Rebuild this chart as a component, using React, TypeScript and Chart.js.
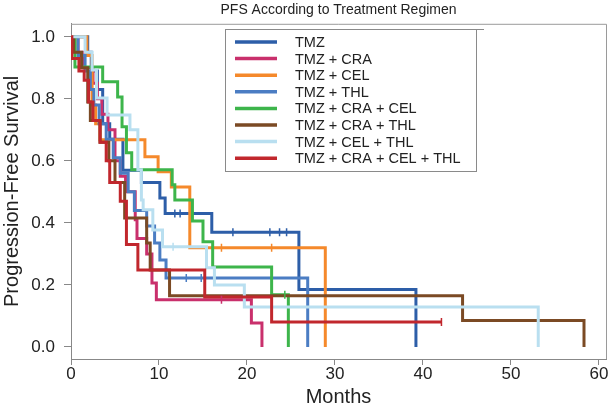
import React, { useEffect, useRef } from 'react';
import { Chart, registerables } from 'chart.js';

Chart.register(...registerables);

// ---- data ----
const seriesNames = [
  'TMZ',
  'TMZ + CRA',
  'TMZ + CEL',
  'TMZ + THL',
  'TMZ + CRA + CEL',
  'TMZ + CRA + THL',
  'TMZ + CEL + THL',
  'TMZ + CRA + CEL + THL',
];
const seriesColors = ['#2d5ea8', '#c9306c', '#f5892b', '#4b7dc3', '#3db54b', '#7b4a24', '#b9dff0', '#c1272d'];

const tmzMonths = [0, 1.9, 2.3, 3.0, 3.6, 4.4, 5.9, 8.0, 10.1, 10.7, 16.0, 25.9, 39.2];
const tmzSurv = [1, 0.95, 0.89, 0.83, 0.72, 0.67, 0.57, 0.53, 0.48, 0.43, 0.37, 0.185, 0];
const tmzCensor = [11.8, 12.4, 18.4, 22.6, 23.7, 24.5];

const craMonths = [0, 0.8, 1.5, 2.5, 3.0, 3.5, 4.2, 5.0, 5.6, 6.2, 7.3, 7.5, 8.6, 9.2, 9.7, 20.5, 21.7];
const craSurv = [1, 0.95, 0.9, 0.85, 0.8, 0.75, 0.7, 0.6, 0.55, 0.5, 0.41, 0.35, 0.3, 0.206, 0.152, 0.077, 0];
const craCensor = [17.1];

const celMonths = [0, 1.8, 2.4, 2.8, 3.3, 8.4, 9.9, 11.4, 13.5, 28.9];
const celSurv = [1, 0.94, 0.78, 0.72, 0.668, 0.613, 0.565, 0.516, 0.32, 0];
const celCensor = [17.1, 22.8];

const thlMonths = [0, 0.8, 1.6, 2.2, 2.6, 3.2, 4.0, 4.8, 5.6, 6.5, 7.2, 8.6, 9.5, 10.1, 10.8, 26.9];
const thlSurv = [1, 0.94, 0.89, 0.83, 0.78, 0.72, 0.67, 0.61, 0.56, 0.5, 0.44, 0.39, 0.335, 0.28, 0.222, 0];
const thlCensor = [13.1, 14.8];

const craCelMonths = [0, 0.45, 3.6, 5.3, 5.8, 6.3, 6.9, 11.5, 11.8, 13.8, 15.0, 16.1, 22.8, 24.7];
const craCelSurv = [1, 0.903, 0.855, 0.806, 0.71, 0.626, 0.571, 0.523, 0.474, 0.406, 0.339, 0.258, 0.168, 0];
const craCelCensor = [24.3];

const craThlMonths = [0, 0.3, 1.2, 1.9, 2.2, 3.3, 4.3, 5.0, 6.1, 8.6, 9.0, 11.2, 44.5, 58.3];
const craThlSurv = [1, 0.95, 0.9, 0.79, 0.73, 0.66, 0.6, 0.53, 0.416, 0.335, 0.248, 0.165, 0.085, 0];
const craThlCensor: number[] = [];

const celThlMonths = [0, 1.6, 2.4, 2.9, 4.1, 6.7, 7.6, 8.0, 8.2, 9.3, 10.4, 15.4, 16.3, 19.7, 53.1];
const celThlSurv = [1, 0.95, 0.893, 0.803, 0.748, 0.7, 0.571, 0.474, 0.442, 0.377, 0.323, 0.255, 0.2, 0.129, 0];
const celThlCensor = [11.6];

const allMonths = [0, 0.1, 0.9, 1.5, 2.0, 2.5, 3.3, 4.0, 4.4, 5.6, 6.3, 7.6, 15.2, 22.8, 42.1];
const allSurv = [1, 0.93, 0.89, 0.86, 0.79, 0.73, 0.66, 0.6, 0.53, 0.47, 0.33, 0.248, 0.161, 0.08, 0.08];
const allCensor = [42.1];

const xTicks = [0, 10, 20, 30, 40, 50, 60];
const yTicks = [0, 0.2, 0.4, 0.6, 0.8, 1.0];

const seriesMonths = [tmzMonths, craMonths, celMonths, thlMonths, craCelMonths, craThlMonths, celThlMonths, allMonths];
const seriesSurv = [tmzSurv, craSurv, celSurv, thlSurv, craCelSurv, craThlSurv, celThlSurv, allSurv];
const seriesCensor = [tmzCensor, craCensor, celCensor, thlCensor, craCelCensor, craThlCensor, celThlCensor, allCensor];

const FONT = "'Liberation Sans', Arial, sans-serif";

function survAt(months: number[], surv: number[], t: number) {
  let s = surv[0];
  for (let i = 0; i < months.length; i++) {
    if (months[i] <= t) s = surv[i];
  }
  return s;
}

const framePlugin = {
  id: 'frame',
  beforeDatasetsDraw(chart: any) {
    const { ctx, chartArea } = chart;
    ctx.save();
    ctx.strokeStyle = '#9a9a9a';
    ctx.lineWidth = 1;
    ctx.beginPath();
    ctx.moveTo(chartArea.left, chartArea.top + 0.5);
    ctx.lineTo(chartArea.right + 0.5, chartArea.top + 0.5);
    ctx.lineTo(chartArea.right + 0.5, chartArea.bottom);
    ctx.stroke();
    ctx.restore();
  },
};

const legendPlugin = {
  id: 'kmLegend',
  afterDraw(chart: any) {
    const { ctx } = chart;
    const x0 = 225;
    const y0 = 29;
    const w = 251;
    const h = 142;
    ctx.save();
    ctx.fillStyle = '#ffffff';
    ctx.fillRect(x0, y0, w, h);
    ctx.strokeStyle = '#8a8a8a';
    ctx.lineWidth = 1;
    ctx.strokeRect(x0 + 0.5, y0 + 0.5, w, h);
    ctx.beginPath();
    ctx.moveTo(x0 + w, y0 + 0.5);
    ctx.lineTo(x0 + w + 8, y0 + 0.5);
    ctx.stroke();
    ctx.font = `14.5px ${FONT}`;
    ctx.textBaseline = 'middle';
    ctx.textAlign = 'left';
    seriesNames.forEach((name, i) => {
      const y = y0 + 13 + i * 16.6;
      ctx.strokeStyle = seriesColors[i];
      ctx.lineWidth = 3.5;
      ctx.beginPath();
      ctx.moveTo(235, y);
      ctx.lineTo(277, y);
      ctx.stroke();
      ctx.fillStyle = '#222222';
      ctx.fillText(name, 295, y + 1);
    });
    ctx.restore();
  },
};

export default function App() {
  const ref = useRef<HTMLCanvasElement | null>(null);

  useEffect(() => {
    document.body.style.margin = '0';
    const canvas = ref.current;
    if (!canvas) return;

    const lineSets = seriesNames.map((name, i) => ({
      type: 'line' as const,
      label: name,
      data: seriesMonths[i].map((m, j) => ({ x: m, y: seriesSurv[i][j] })),
      borderColor: seriesColors[i],
      backgroundColor: seriesColors[i],
      borderWidth: 3,
      stepped: true,
      pointRadius: 0,
      fill: false,
      order: 10 + (7 - i),
    }));

    const censorSets = seriesNames.map((name, i) => ({
      type: 'scatter' as const,
      label: name + ' censored',
      data: seriesCensor[i].map((m) => ({ x: m, y: survAt(seriesMonths[i], seriesSurv[i], m) })),
      borderColor: seriesColors[i],
      backgroundColor: seriesColors[i],
      pointStyle: 'line',
      rotation: 90,
      pointRadius: 4,
      pointBorderWidth: 1.5,
      showLine: false,
      order: 1,
    }));

    const chart = new Chart(canvas, {
      type: 'line',
      data: { datasets: [...lineSets, ...censorSets] as any },
      options: {
        responsive: false,
        animation: false,
        layout: { padding: { left: 0, right: 10, top: 0, bottom: 0 } },
        plugins: {
          legend: { display: false },
          tooltip: { enabled: false },
          title: {
            display: true,
            fullSize: false,
            text: 'PFS According to Treatment Regimen',
            color: '#222',
            font: { family: FONT, size: 14, weight: 'normal' },
            padding: { top: 2, bottom: 5 },
          },
        },
        scales: {
          x: {
            type: 'linear',
            min: 0,
            max: 60.8,
            afterBuildTicks: (axis: any) => {
              axis.ticks = xTicks.map((v) => ({ value: v }));
            },
            afterFit: (scale: any) => {
              scale.height = 51;
            },
            ticks: {
              color: '#222',
              font: { family: FONT, size: 17 },
              padding: -1,
              maxRotation: 0,
              callback: (v: any) => String(v),
            },
            grid: { display: true, drawOnChartArea: false, drawTicks: true, tickLength: 6, color: '#888' },
            border: { display: true, color: '#888', width: 1 },
            title: {
              display: true,
              text: 'Months',
              color: '#222',
              font: { family: FONT, size: 20 },
              padding: { top: 0, bottom: 1 },
            },
          },
          y: {
            type: 'linear',
            min: -0.039,
            max: 1.042,
            afterBuildTicks: (axis: any) => {
              axis.ticks = yTicks.map((v) => ({ value: v }));
            },
            afterFit: (scale: any) => {
              scale.width = 71;
            },
            ticks: {
              color: '#222',
              font: { family: FONT, size: 17 },
              padding: 9,
              callback: (v: any) => Number(v).toFixed(1),
            },
            grid: { display: true, drawOnChartArea: false, drawTicks: true, tickLength: 7, color: '#888' },
            border: { display: true, color: '#888', width: 1 },
            title: {
              display: true,
              text: 'Progression-Free Survival',
              color: '#222',
              font: { family: FONT, size: 20 },
              padding: { top: 0, bottom: 0 },
            },
          },
        },
      },
      plugins: [framePlugin, legendPlugin],
    } as any);

    return () => chart.destroy();
  }, []);

  return (
    <div style={{ width: 616, height: 410 }}>
      <canvas ref={ref} width={616} height={410} />
    </div>
  );
}
